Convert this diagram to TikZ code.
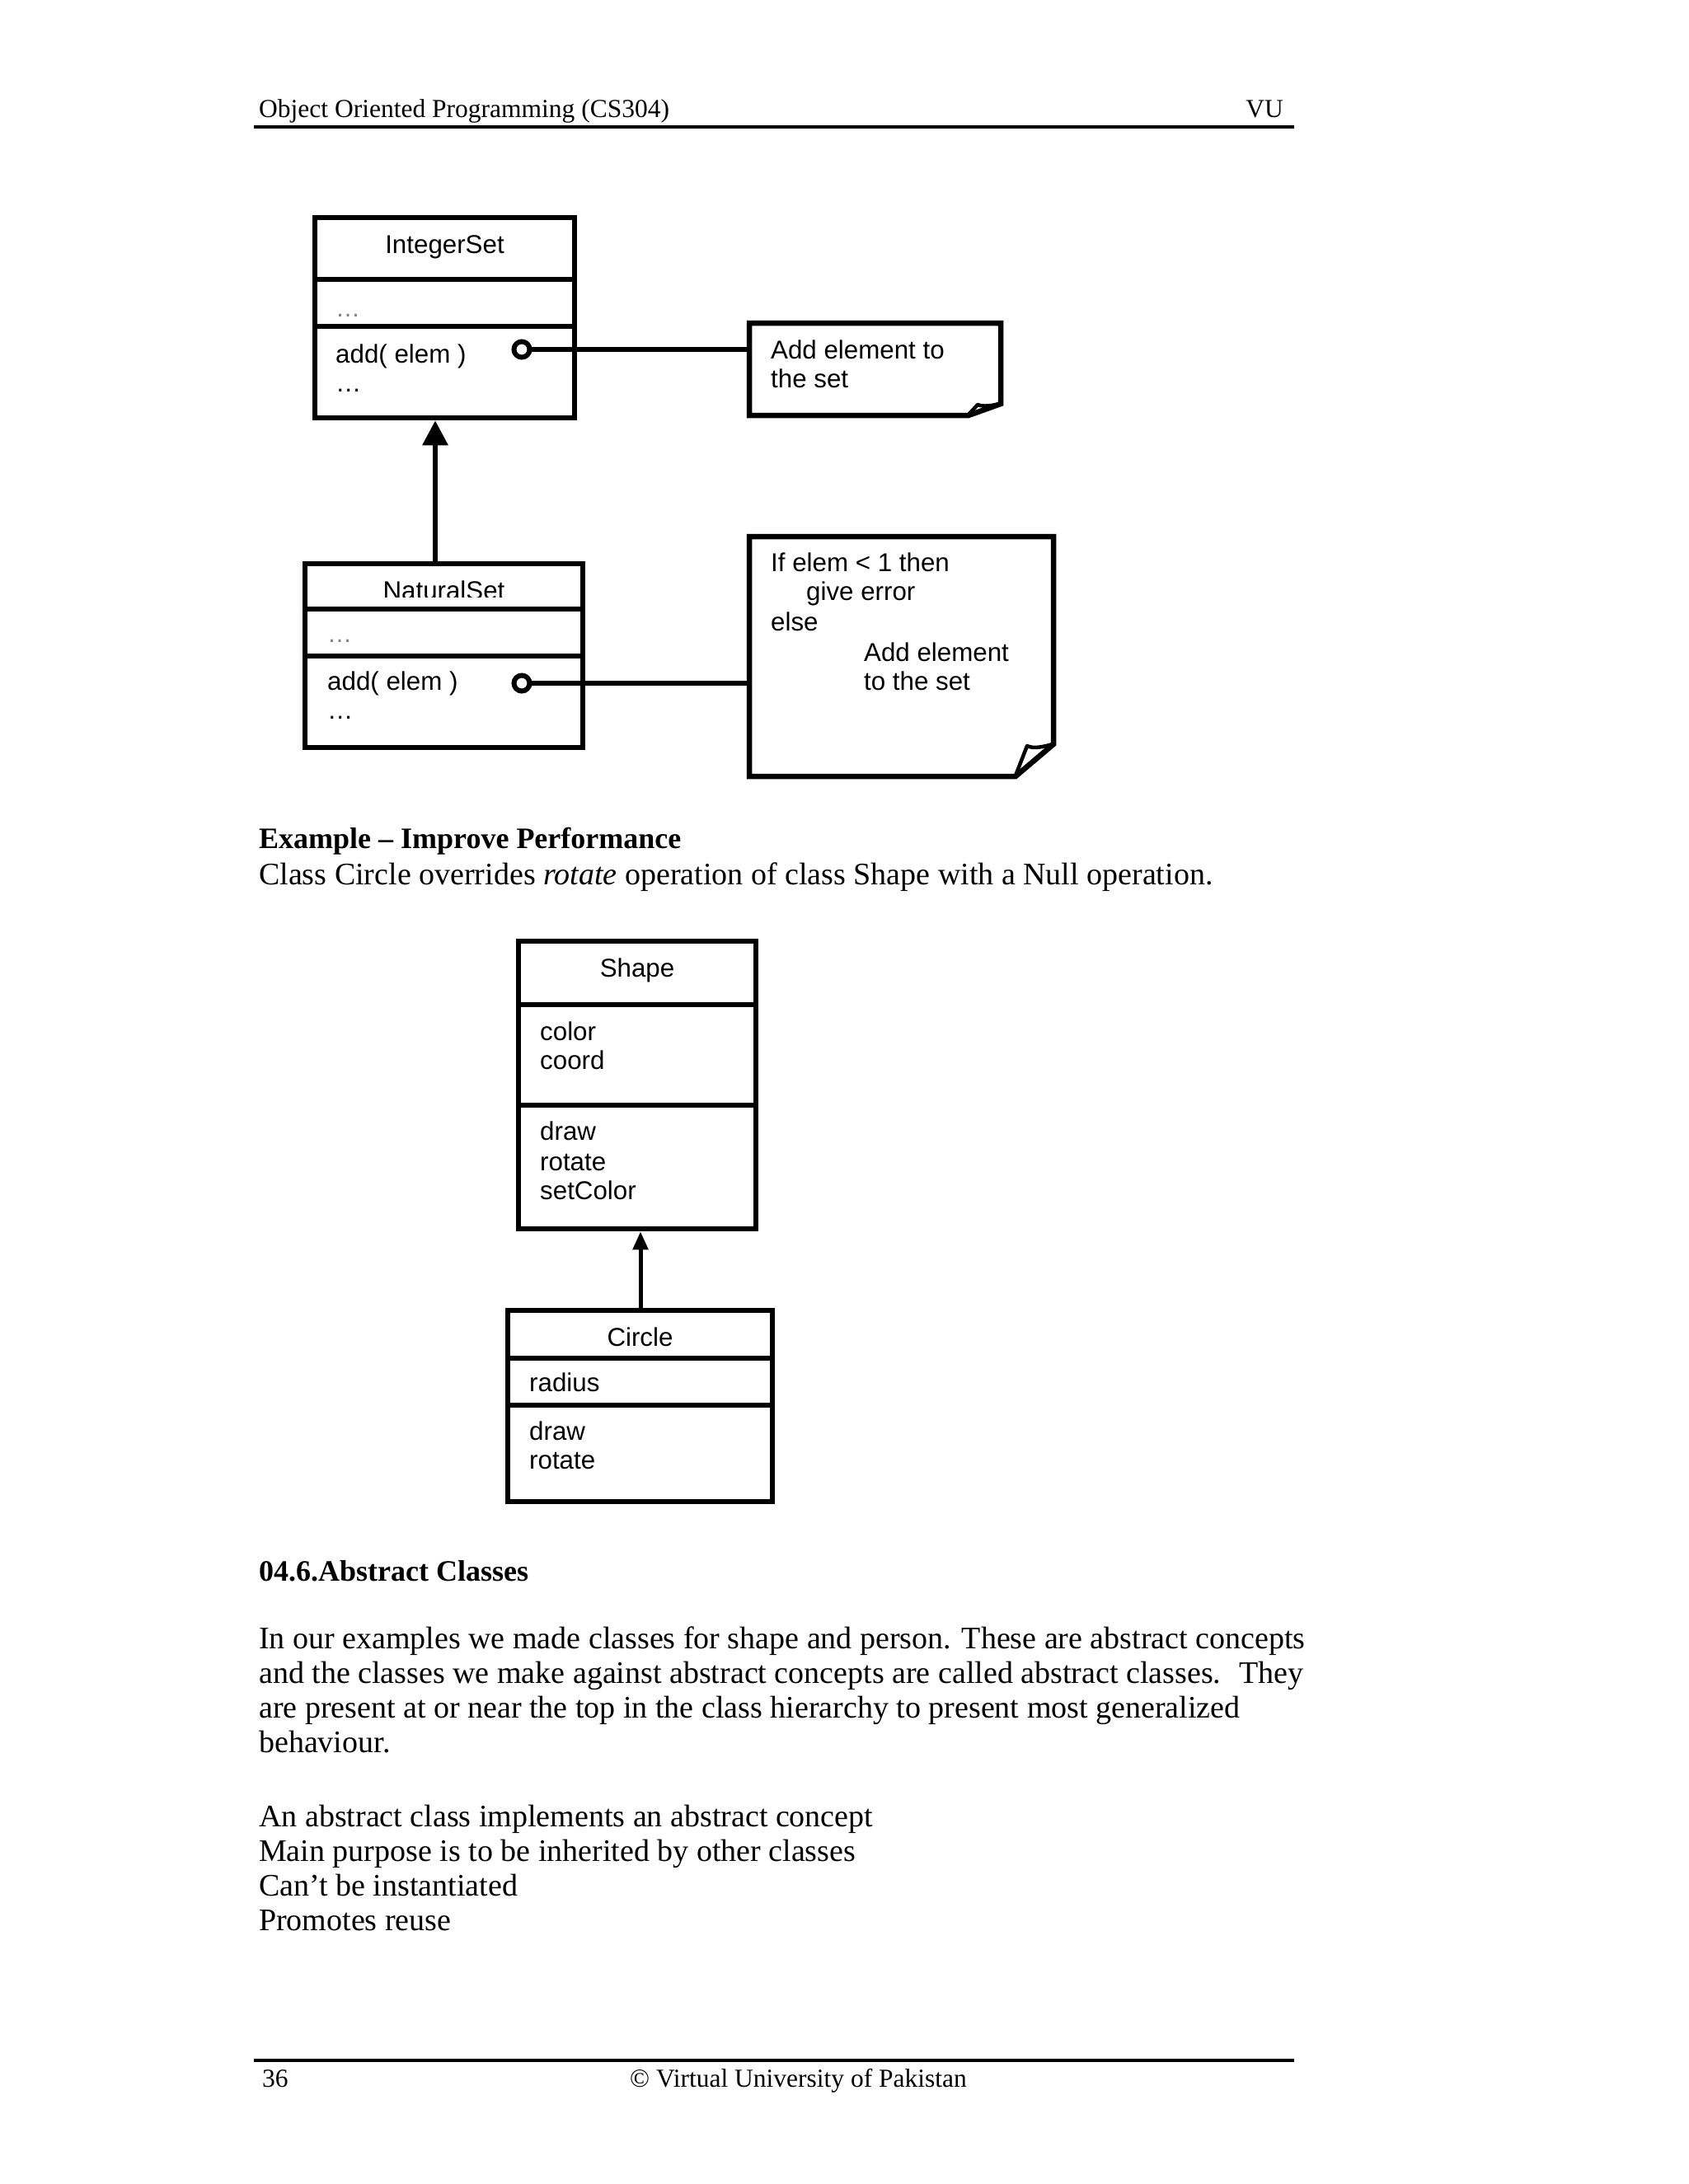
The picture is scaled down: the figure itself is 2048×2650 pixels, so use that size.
\documentclass[tikz,border=0pt]{standalone}
\usepackage{fontspec}
\setmainfont{Liberation Serif}
\newfontfamily\diag{Liberation Sans}
\usetikzlibrary{arrows.meta,calc}
\begin{document}
\begin{tikzpicture}[x=1pt,y=-1pt,
  box/.style={draw, line width=6.5pt, inner sep=0pt, rectangle},
  sepline/.style={line width=6pt},
  dtxt/.style={anchor=base west, inner sep=0pt, font=\diag\fontsize{31.3}{35}\selectfont},
  dttl/.style={anchor=base, inner sep=0pt, font=\diag\fontsize{31.3}{35}\selectfont},
  graydots/.style={anchor=base west, inner sep=0pt, text=black!50, font=\diag\fontsize{30}{30}\selectfont},
  body/.style={anchor=base west, inner sep=0pt, font=\fontsize{38}{42}\selectfont},
  bhead/.style={anchor=base west, inner sep=0pt, font=\bfseries\fontsize{36}{42}\selectfont},
  hf/.style={inner sep=0pt, font=\fontsize{31.5}{36}\selectfont},
  port/.style={circle, draw, line width=6pt, fill=white, minimum size=19pt, inner sep=0pt},
  noteline/.style={draw, line width=6.5pt, line join=miter},
  foldline/.style={draw, line width=4.5pt, line join=round},
  link/.style={line width=6pt},
  rule/.style={line width=3.5pt},
]
\useasboundingbox (0,0) rectangle (2048,2650);
\fill[white] (0,0) rectangle (2048,2650);

% header
\node[hf, anchor=base west] (hdl) at (314,142) {Object Oriented Programming (CS304)};
\node[hf, anchor=base east] (hdr) at (1557,142) {VU};
\draw[rule] (308,154) -- (1570,154);

% ---------- IntegerSet ----------
\node[box, minimum width=315pt, minimum height=243pt] (iset) at (539.5,385.5) {};
\node[dttl] (isett) at (539.5,307) {IntegerSet};
\draw[sepline] (iset.west |- 0,339) -- (iset.east |- 0,339);
\draw[sepline] (iset.west |- 0,396) -- (iset.east |- 0,396);
\node[graydots] (isetd) at (407,384) {…};
\node[dtxt] (iseta) at (407,440) {add( elem )};
\node[dtxt] (isetb) at (407,475) {…};

% ---------- NaturalSet ----------
\node[box, minimum width=337pt, minimum height=223pt] (nset) at (538.5,795.5) {};
\begin{scope}
  \clip (380,690) rectangle (700,724);
  \node[dttl] (nsett) at (538.5,727) {NaturalSet};
\end{scope}
\draw[sepline] (nset.west |- 0,739) -- (nset.east |- 0,739);
\draw[sepline] (nset.west |- 0,796) -- (nset.east |- 0,796);
\node[graydots] (nsetd) at (397,779) {…};
\node[dtxt] (nseta) at (397,837) {add( elem )};
\node[dtxt] (nsetb) at (397,872) {…};

% inheritance arrow
\coordinate (a1) at (528,681);
\draw[line width=6pt, -{Triangle[width=30pt,length=30pt]}] (a1) -- (a1 |- iset.south);

% ---------- note 1 ----------
\node[minimum width=305pt, minimum height=112pt, inner sep=0pt] (n1) at (1061.5,448) {};
\draw[noteline] (909,392) -- (1214,392) -- (1214,490) -- (1175,504) -- (909,504) -- cycle;
\draw[foldline] (1175,503) -- (1186,491) .. controls (1193,494) and (1204,492) .. (1213,490);
\node[dtxt] (n1a) at (935,435) {Add element to};
\node[dtxt] (n1b) at (935,470) {the set};

% ---------- note 2 ----------
\node[minimum width=369pt, minimum height=291pt, inner sep=0pt] (n2) at (1093.5,796.5) {};
\draw[noteline] (909,651) -- (1278,651) -- (1278,903) -- (1232,942) -- (909,942) -- cycle;
\draw[foldline] (1232,941) -- (1246,905) .. controls (1254,909) and (1266,906) .. (1277,903);
\node[dtxt] (n2a) at (935,693) {If elem < 1 then};
\node[dtxt] (n2b) at (978,728) {give error};
\node[dtxt] (n2c) at (935,765) {else};
\node[dtxt] (n2d) at (1048,802) {Add element};
\node[dtxt] (n2e) at (1048,837) {to the set};

% ports and links
\coordinate (p1) at (633,424);
\coordinate (p2) at (633,829);
\draw[link] (p1) -- (p1 -| n1.west);
\draw[link] (p2) -- (p2 -| n2.west);
\node[port] (c1) at (p1) {};
\node[port] (c2) at (p2) {};

% ---------- body text ----------
\node[bhead] (ex) at (314,1029) {Example – Improve Performance};
\node[body] (exl) at (314,1073) {Class Circle overrides \textit{rotate} operation of class Shape with a Null operation.};

% ---------- Shape ----------
\node[box, minimum width=288pt, minimum height=349pt] (shp) at (773,1316.5) {};
\node[dttl] (shpt) at (773,1185) {Shape};
\draw[sepline] (shp.west |- 0,1219) -- (shp.east |- 0,1219);
\draw[sepline] (shp.west |- 0,1341) -- (shp.east |- 0,1341);
\node[dtxt] (s1) at (655,1262) {color};
\node[dtxt] (s2) at (655,1297) {coord};
\node[dtxt] (s3) at (655,1383) {draw};
\node[dtxt] (s4) at (655,1420) {rotate};
\node[dtxt] (s5) at (655,1455) {setColor};

% ---------- Circle ----------
\node[box, minimum width=321pt, minimum height=232pt] (circ) at (776.5,1706) {};
\node[dttl] (circt) at (776.5,1633) {Circle};
\draw[sepline] (circ.west |- 0,1648) -- (circ.east |- 0,1648);
\draw[sepline] (circ.west |- 0,1705) -- (circ.east |- 0,1705);
\node[dtxt] (k1) at (642,1688) {radius};
\node[dtxt] (k2) at (642,1747) {draw};
\node[dtxt] (k3) at (642,1782) {rotate};

\coordinate (a2) at (777,1587);
\draw[line width=5pt, -{Triangle[width=18pt,length=22pt]}] (a2) -- (a2 |- shp.south);

% ---------- section text ----------
\node[bhead] (sec) at (314,1918) {04.6.Abstract Classes};
\node[body] (p1l) at (314,2000) {In our examples we made classes for shape and person. These are abstract concepts};
\node[body] (p2l) at (314,2042) {and the classes we make against abstract concepts are called abstract classes.~ They};
\node[body] (p3l) at (314,2084) {are present at or near the top in the class hierarchy to present most generalized};
\node[body] (p4l) at (314,2126) {behaviour.};
\node[body] (l1) at (314,2216) {An abstract class implements an abstract concept};
\node[body] (l2) at (314,2258) {Main purpose is to be inherited by other classes};
\node[body] (l3) at (314,2300) {Can’t be instantiated};
\node[body] (l4) at (314,2342) {Promotes reuse};

% footer
\draw[rule] (308,2500) -- (1570,2500);
\node[hf, anchor=base west] (pg) at (318,2532) {36};
\node[hf, anchor=base west] (cpy) at (764,2532) {© Virtual University of Pakistan};
\end{tikzpicture}
\end{document}
